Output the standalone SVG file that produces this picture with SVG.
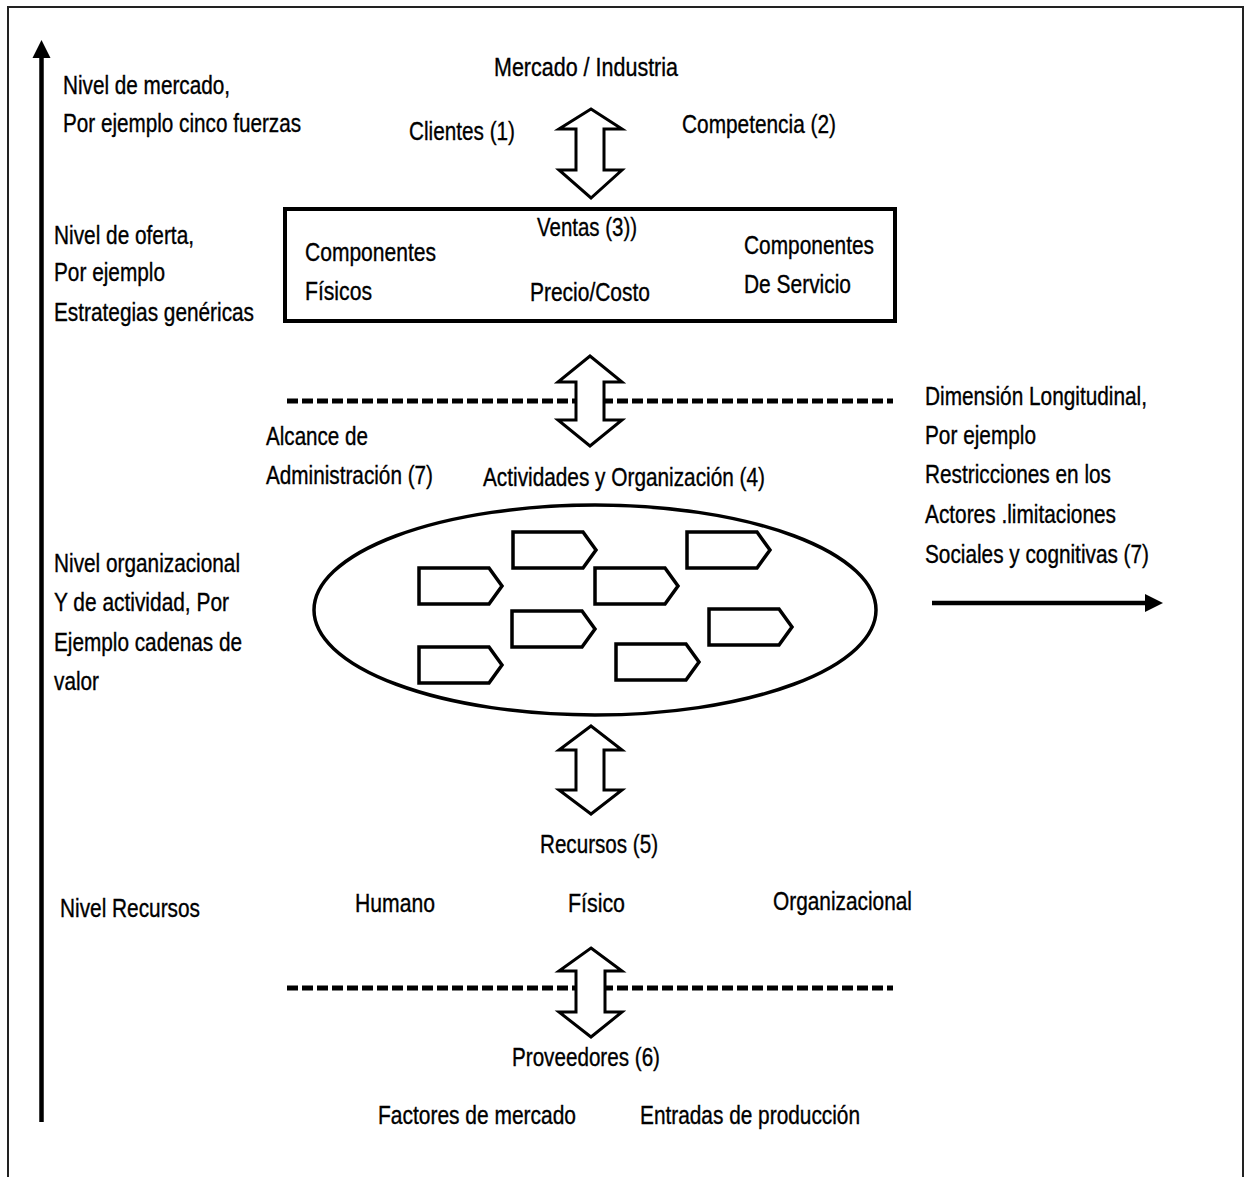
<svg xmlns="http://www.w3.org/2000/svg" width="1250" height="1177" viewBox="0 0 1250 1177">
  <style>
    text { font-family: "Liberation Sans", Arial, sans-serif; font-size: 25px; fill: #000; stroke: #000; stroke-width: 0.35; }
    .frame { fill: none; stroke: #222; stroke-width: 2; }
    .dbl { fill: #fff; stroke: #000; stroke-width: 3; stroke-linejoin: miter; }
    .dash { fill: none; stroke: #000; stroke-width: 5; stroke-dasharray: 11 4; }
    .axis { fill: none; stroke: #000; stroke-width: 4.5; }
    .act { fill: #fff; stroke: #000; stroke-width: 3.5; stroke-linejoin: miter; }
  </style>
  <defs>
    <marker id="head" viewBox="0 0 10 10" refX="0" refY="5" markerWidth="4" markerHeight="4.4" orient="auto" markerUnits="strokeWidth">
      <path d="M0,0 L10,5 L0,10 Z" fill="#000"/>
    </marker>
    <path id="activity" d="M0,0 H70 L83,18 L70,36 H0 Z"/>
  </defs>

  <rect width="1250" height="1177" fill="#fff"/>
  <!-- outer frame, open at the bottom -->
  <path class="frame" d="M8,1180 V7 H1243 V1180"/>

  <!-- level axis and longitudinal dimension -->
  <g id="axes">
    <line class="axis" x1="41.5" y1="1122" x2="41.5" y2="58" marker-end="url(#head)"/>
    <line class="axis" x1="932" y1="603" x2="1145" y2="603" marker-end="url(#head)"/>
  </g>

  <!-- boundaries -->
  <g id="boundaries">
    <line class="dash" x1="287" y1="401" x2="893" y2="401"/>
    <line class="dash" x1="287" y1="988" x2="893" y2="988"/>
  </g>

  <!-- connectors between levels -->
  <g id="connectors">
    <path class="dbl" d="M591,109 L622,129 L604,129 L604,170 L622,170 L591,198 L559,170 L576,170 L576,129 L559,129 Z"/>
    <path class="dbl" d="M590,356 L622,382 L604,382 L604,420 L622,420 L590,446 L558,420 L576,420 L576,382 L558,382 Z"/>
    <path class="dbl" d="M591,726 L622,750 L604,750 L604,790 L622,790 L591,814 L559,790 L576,790 L576,750 L559,750 Z"/>
    <path class="dbl" d="M591,948 L622,971 L605,971 L605,1012 L622,1012 L591,1037 L559,1012 L576,1012 L576,971 L559,971 Z"/>
  </g>

  <!-- left column: levels -->
  <g id="level-market">
    <text x="63" y="94" textLength="167" lengthAdjust="spacingAndGlyphs">Nivel de mercado,</text>
    <text x="63" y="132" textLength="238" lengthAdjust="spacingAndGlyphs">Por ejemplo cinco fuerzas</text>
  </g>
  <g id="level-offer">
    <text x="54" y="244" textLength="140" lengthAdjust="spacingAndGlyphs">Nivel de oferta,</text>
    <text x="54" y="281" textLength="111" lengthAdjust="spacingAndGlyphs">Por ejemplo</text>
    <text x="54" y="321" textLength="200" lengthAdjust="spacingAndGlyphs">Estrategias genéricas</text>
  </g>
  <g id="level-organization">
    <text x="54" y="572" textLength="186" lengthAdjust="spacingAndGlyphs">Nivel organizacional</text>
    <text x="54" y="611" textLength="175" lengthAdjust="spacingAndGlyphs">Y de actividad, Por</text>
    <text x="54" y="651" textLength="188" lengthAdjust="spacingAndGlyphs">Ejemplo cadenas de</text>
    <text x="54" y="690" textLength="45" lengthAdjust="spacingAndGlyphs">valor</text>
  </g>
  <g id="level-resources">
    <text x="60" y="917" textLength="140" lengthAdjust="spacingAndGlyphs">Nivel Recursos</text>
  </g>

  <!-- market -->
  <g id="market">
    <text x="494" y="76" textLength="184" lengthAdjust="spacingAndGlyphs">Mercado  / Industria</text>
    <text x="409" y="140" textLength="106" lengthAdjust="spacingAndGlyphs">Clientes (1)</text>
    <text x="682" y="133" textLength="154" lengthAdjust="spacingAndGlyphs">Competencia (2)</text>
  </g>

  <!-- offer -->
  <g id="offer">
    <rect x="285" y="209" width="610" height="112" fill="none" stroke="#000" stroke-width="4"/>
    <text x="537" y="236" textLength="100" lengthAdjust="spacingAndGlyphs">Ventas (3))</text>
    <text x="305" y="261" textLength="131" lengthAdjust="spacingAndGlyphs">Componentes</text>
    <text x="305" y="300" textLength="67" lengthAdjust="spacingAndGlyphs">Físicos</text>
    <text x="530" y="301" textLength="120" lengthAdjust="spacingAndGlyphs">Precio/Costo</text>
    <text x="744" y="254" textLength="130" lengthAdjust="spacingAndGlyphs">Componentes</text>
    <text x="744" y="293" textLength="107" lengthAdjust="spacingAndGlyphs">De Servicio</text>
  </g>

  <!-- management scope -->
  <g id="scope">
    <text x="266" y="445" textLength="102" lengthAdjust="spacingAndGlyphs">Alcance de</text>
    <text x="266" y="484" textLength="167" lengthAdjust="spacingAndGlyphs">Administración (7)</text>
  </g>

  <!-- longitudinal dimension -->
  <g id="longitudinal">
    <text x="925" y="405" textLength="222" lengthAdjust="spacingAndGlyphs">Dimensión Longitudinal,</text>
    <text x="925" y="444" textLength="111" lengthAdjust="spacingAndGlyphs">Por ejemplo</text>
    <text x="925" y="483" textLength="186" lengthAdjust="spacingAndGlyphs">Restricciones en los</text>
    <text x="925" y="523" textLength="191" lengthAdjust="spacingAndGlyphs">Actores .limitaciones</text>
    <text x="925" y="563" textLength="224" lengthAdjust="spacingAndGlyphs">Sociales y cognitivas (7)</text>
  </g>

  <!-- activities and organization -->
  <g id="activities">
    <text x="483" y="486" textLength="282" lengthAdjust="spacingAndGlyphs">Actividades y Organización (4)</text>
    <ellipse cx="595" cy="610" rx="281" ry="105" fill="#fff" stroke="#000" stroke-width="3.5"/>
    <use href="#activity" class="act" x="419" y="568"/>
    <use href="#activity" class="act" x="513" y="532"/>
    <use href="#activity" class="act" x="595" y="568"/>
    <use href="#activity" class="act" x="687" y="532"/>
    <use href="#activity" class="act" x="512" y="611"/>
    <use href="#activity" class="act" x="709" y="609"/>
    <use href="#activity" class="act" x="419" y="647"/>
    <use href="#activity" class="act" x="616" y="644"/>
  </g>

  <!-- resources -->
  <g id="resources">
    <text x="540" y="853" textLength="118" lengthAdjust="spacingAndGlyphs">Recursos (5)</text>
    <text x="355" y="912" textLength="80" lengthAdjust="spacingAndGlyphs">Humano</text>
    <text x="568" y="912" textLength="57" lengthAdjust="spacingAndGlyphs">Físico</text>
    <text x="773" y="910" textLength="139" lengthAdjust="spacingAndGlyphs">Organizacional</text>
  </g>

  <!-- suppliers -->
  <g id="suppliers">
    <text x="512" y="1066" textLength="148" lengthAdjust="spacingAndGlyphs">Proveedores (6)</text>
    <text x="378" y="1124" textLength="198" lengthAdjust="spacingAndGlyphs">Factores de mercado</text>
    <text x="640" y="1124" textLength="220" lengthAdjust="spacingAndGlyphs">Entradas de producción</text>
  </g>
</svg>
